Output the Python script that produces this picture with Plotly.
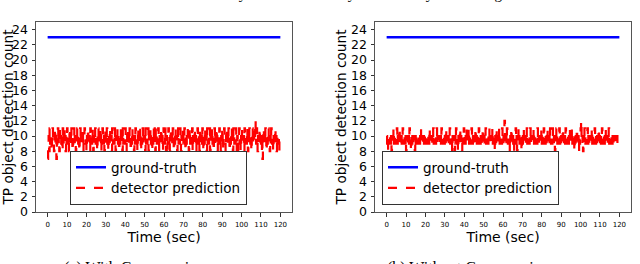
import plotly.graph_objects as go

# ---- data ----
duration_sec = 120
pred_with_compression = [
    7,9,10,8,11,9,10,9,8,10,11,10,9,8,10,11,9,10,7,9,
    10,11,9,10,8,9,11,10,9,10,8,11,9,10,11,9,10,8,10,9,
    11,10,9,10,8,11,9,10,9,11,10,8,9,10,11,9,10,9,8,10,
    9,11,10,9,10,8,10,11,9,10,9,10,11,8,9,10,11,10,9,10,
    8,10,9,11,10,9,10,8,11,9,10,9,11,10,8,10,9,10,11,9,
    10,9,8,10,11,9,10,9,10,11,8,10,9,11,10,9,10,8,10,11,
    9,10,11,9,10,8,10,9,11,10,9,10,8,11,10,9,10,9,11,10,
    8,10,9,10,11,9,10,8,10,9,11,10,9,10,8,11,9,10,10,9,
    11,10,9,8,10,11,9,10,9,11,10,8,10,9,11,10,9,10,8,10,
    9,11,10,9,10,8,11,10,9,10,9,11,8,10,9,10,11,9,10,9,
    10,8,11,9,10,9,10,11,8,10,9,10,11,9,10,8,10,9,11,10,
    9,10,8,11,10,9,10,9,11,10,8,10,9,10,11,9,10,8,9,11,
    10,9,11,10,8,10,7,9,10,11,9,10,8,10,11,9,10,9,11,10,
    8,10,9,11,10,9,10,8,10,11,9,10,9,11,10,8,10,9,10,11,
    9,10,11,9,8,10,9,10,11,10,9,8,10,11,9,10,9,10,11,8,
    10,9,10,11,9,10,8,10,9,11,10,9,10,8,11,10,9,10,9,11,
    10,8,10,9,11,10,9,10,8,11,9,10,9,10,11,8,10,9,10,11,
    9,10,8,10,11,9,10,9,11,10,8,10,9,10,11,9,10,8,10,9,
    11,7,9,10,11,10,9,8,10,11,9,10,9,11,10,8,10,9,10,11,
    9,10,8,11,10,9,10,9,11,10,8,10,7,9,10,11,9,10,8,10,
    11,9,10,9,10,8,11,10,9,10,9,11,10,8,10,9,11,10,9,10,
    8,10,11,9,10,9,11,10,12,10,9,11,10,8,10,9,10,11,9,10,
    9,8,10,7,10,11,9,10,9,11,10,8,10,9,10,11,9,10,8,10,
    9,11,10,9,10,8,10,9,10,11,9,10,8,10,9,10,9,10,8,9,
    9,
]
pred_without_compression = [
    10,9,8,10,9,10,9,10,9,10,8,10,9,10,11,9,10,9,10,9,
    10,11,9,10,9,10,11,9,10,9,10,9,10,11,9,10,9,10,9,10,
    8,10,9,10,9,10,9,11,10,9,8,10,9,10,9,10,9,10,8,10,
    9,10,9,10,9,10,9,10,9,10,11,9,10,9,10,9,10,9,10,9,
    10,9,10,9,10,9,10,9,11,10,9,10,9,10,9,10,11,9,10,9,
    10,9,10,11,9,10,9,10,9,10,9,10,9,11,10,9,10,9,10,9,
    10,9,11,10,9,10,9,10,9,10,11,9,10,9,10,8,10,9,10,9,
    8,10,9,11,10,9,10,8,10,9,10,11,9,10,9,8,10,9,10,11,
    9,10,9,10,11,9,10,9,10,11,9,10,9,10,9,11,10,9,10,9,
    10,9,10,11,9,10,9,10,9,10,11,9,10,9,10,9,10,9,11,10,
    9,10,9,10,11,9,10,9,10,9,10,11,9,10,9,10,9,10,11,9,
    10,9,10,8,10,9,11,10,9,10,9,10,11,9,10,9,10,9,11,10,
    9,10,11,12,10,9,10,9,11,10,9,10,9,10,8,10,9,11,10,9,
    10,9,8,10,9,10,11,9,10,8,10,9,11,10,9,10,9,10,8,10,
    9,10,11,9,10,9,10,9,10,11,9,10,9,10,9,10,11,9,10,9,
    10,9,10,11,9,10,9,10,9,10,9,11,10,9,10,9,10,9,10,11,
    9,10,9,10,11,9,10,9,10,9,10,11,9,10,9,10,9,11,10,9,
    10,9,11,10,9,10,9,8,10,9,11,10,9,10,9,10,11,9,10,9,
    10,9,10,11,9,10,9,10,9,11,10,9,10,9,10,9,10,11,9,10,
    9,10,11,9,10,9,10,8,10,9,10,9,11,10,9,10,8,10,9,10,
    11,12,10,9,10,8,10,9,11,10,9,10,9,10,11,9,10,9,10,9,
    10,9,10,11,9,10,9,10,9,11,10,9,10,9,10,9,10,11,9,10,
    9,10,9,10,11,9,10,9,10,9,10,11,9,10,9,10,9,10,11,9,
    10,9,10,9,10,9,10,9,10,9,9,10,9,10,9,10,9,9,9,9,
    9,
]
ground_truth = 23
time_left = [i * duration_sec / (len(pred_with_compression) - 1) for i in range(len(pred_with_compression))]
time_right = [i * duration_sec / (len(pred_without_compression) - 1) for i in range(len(pred_without_compression))]
x_ticks = list(range(0, 121, 10))
y_ticks = list(range(0, 25, 2))
captions = ["(a) With Compression", "(b) Without Compression"]
page_text = "Why is the video analytics accuracy fluctuating?"
x_title = "Time (sec)"
y_title = "TP object detection count"

FONT = "DejaVu Sans"
fig = go.Figure()

panels = [
    (time_left, pred_with_compression, "x", "y", "legend"),
    (time_right, pred_without_compression, "x2", "y2", "legend2"),
]
for tx, vals, xa, ya, lg in panels:
    fig.add_trace(go.Scatter(x=[tx[0], tx[-1]], y=[ground_truth, ground_truth],
                             mode="lines", name="ground-truth",
                             line=dict(color="#0000ff", width=2.5),
                             xaxis=xa, yaxis=ya, legend=lg))
    fig.add_trace(go.Scatter(x=tx, y=vals, mode="lines", name="detector prediction",
                             line=dict(color="#ff0000", width=2.2, dash="dash", shape="hv"),
                             xaxis=xa, yaxis=ya, legend=lg))

W, H = 640, 264
ydom = [1 - 212 / H, 1 - 22 / H]
xdom1 = [36 / W, 292 / W]
xdom2 = [375 / W, 631 / W]

def xaxis(dom, anchor):
    return dict(domain=dom, anchor=anchor, range=[-6, 126], tickvals=x_ticks,
                ticks="outside", ticklen=3.5, tickcolor="#333", showgrid=False,
                zeroline=False, showline=True, linecolor="#555", linewidth=1, mirror=True,
                automargin=False, ticklabelstandoff=2,
                title=dict(text=x_title, standoff=3, font=dict(family=FONT, size=14, color="black")),
                tickfont=dict(family=FONT, size=7, color="black"))

def yaxis(anchor):
    return dict(domain=ydom, anchor=anchor, range=[0, 25], tickvals=y_ticks,
                ticks="outside", ticklen=3.5, tickcolor="#333", showgrid=False,
                zeroline=False, showline=True, linecolor="#555", linewidth=1, mirror=True,
                automargin=False, ticklabelstandoff=1,
                title=dict(text=y_title, standoff=1, font=dict(family=FONT, size=13.7, color="black")),
                tickfont=dict(family=FONT, size=12.5, color="black"))

def legend(x0, y1):
    return dict(x=x0 / W, y=1 - y1 / H, xanchor="left", yanchor="bottom",
                bgcolor="white", bordercolor="#333", borderwidth=1,
                font=dict(family=FONT, size=13.5, color="black"),
                tracegroupgap=0, itemwidth=30)

annotations = []
for cap, capx in [(captions[0], 62), (captions[1], 385)]:
    annotations.append(dict(text=cap, x=capx / W, y=1 - 257 / H, xref="paper", yref="paper",
                            xanchor="left", yanchor="top", showarrow=False,
                            font=dict(family="Liberation Serif", size=16, color="black")))
annotations.append(dict(text=page_text, x=215 / W, y=1 - 4 / H, xref="paper", yref="paper",
                        xanchor="left", yanchor="bottom", showarrow=False,
                        font=dict(family="Liberation Serif", size=15, color="black")))

fig.update_layout(
    width=W, height=H, margin=dict(l=0, r=0, t=0, b=0, autoexpand=False),
    paper_bgcolor="white", plot_bgcolor="white",
    xaxis=xaxis(xdom1, "y"), yaxis=yaxis("x"),
    xaxis2=xaxis(xdom2, "y2"), yaxis2=yaxis("x2"),
    legend=legend(70, 205), legend2=legend(382, 205),
    annotations=annotations, showlegend=True,
)
fig.write_html("out.html", config={"displayModeBar": False},
               post_script="document.body.style.margin='0';document.body.style.overflow='hidden';")
